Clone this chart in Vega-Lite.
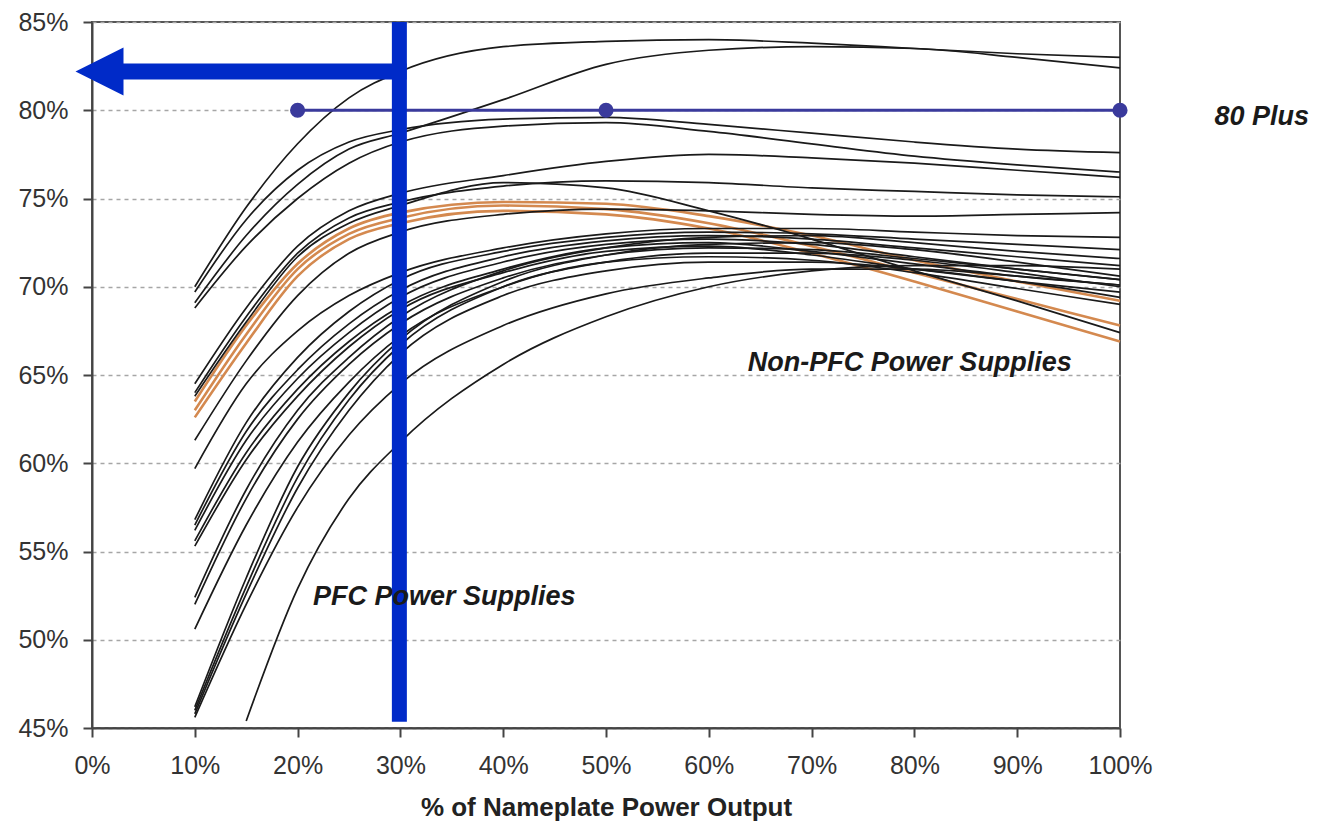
{
  "$schema": "https://vega.github.io/schema/vega-lite/v6.json",
  "width": 1028,
  "height": 706,
  "autosize": "none",
  "padding": {"left": 92, "top": 22, "right": 203, "bottom": 98},
  "background": "white",
  "config": {
    "view": {"stroke": "#555", "strokeWidth": 2},
    "font": "Liberation Sans"
  },
  "datasets": {
    "curves": [
      {"id":"A1","k":"black","x":10,"y":70.0},{"id":"A1","k":"black","x":15,"y":74.5},{"id":"A1","k":"black","x":20,"y":78.1},{"id":"A1","k":"black","x":25,"y":80.7},{"id":"A1","k":"black","x":30,"y":82.2},{"id":"A1","k":"black","x":40,"y":83.6},{"id":"A1","k":"black","x":50,"y":83.9},{"id":"A1","k":"black","x":60,"y":84.0},{"id":"A1","k":"black","x":70,"y":83.8},{"id":"A1","k":"black","x":80,"y":83.5},{"id":"A1","k":"black","x":90,"y":83.2},{"id":"A1","k":"black","x":100,"y":83.0},
      {"id":"A2","k":"black","x":10,"y":69.1},{"id":"A2","k":"black","x":15,"y":72.9},{"id":"A2","k":"black","x":20,"y":75.8},{"id":"A2","k":"black","x":25,"y":77.8},{"id":"A2","k":"black","x":30,"y":78.7},{"id":"A2","k":"black","x":40,"y":80.6},{"id":"A2","k":"black","x":50,"y":82.6},{"id":"A2","k":"black","x":60,"y":83.4},{"id":"A2","k":"black","x":70,"y":83.6},{"id":"A2","k":"black","x":80,"y":83.5},{"id":"A2","k":"black","x":90,"y":83.0},{"id":"A2","k":"black","x":100,"y":82.4},
      {"id":"B1","k":"black","x":10,"y":69.7},{"id":"B1","k":"black","x":15,"y":73.8},{"id":"B1","k":"black","x":20,"y":76.6},{"id":"B1","k":"black","x":25,"y":78.2},{"id":"B1","k":"black","x":30,"y":78.9},{"id":"B1","k":"black","x":40,"y":79.5},{"id":"B1","k":"black","x":50,"y":79.6},{"id":"B1","k":"black","x":60,"y":79.2},{"id":"B1","k":"black","x":70,"y":78.7},{"id":"B1","k":"black","x":80,"y":78.2},{"id":"B1","k":"black","x":90,"y":77.8},{"id":"B1","k":"black","x":100,"y":77.6},
      {"id":"B2","k":"black","x":10,"y":68.8},{"id":"B2","k":"black","x":15,"y":72.3},{"id":"B2","k":"black","x":20,"y":75.0},{"id":"B2","k":"black","x":25,"y":77.0},{"id":"B2","k":"black","x":30,"y":78.2},{"id":"B2","k":"black","x":40,"y":79.1},{"id":"B2","k":"black","x":50,"y":79.3},{"id":"B2","k":"black","x":60,"y":78.8},{"id":"B2","k":"black","x":70,"y":78.1},{"id":"B2","k":"black","x":80,"y":77.4},{"id":"B2","k":"black","x":90,"y":76.9},{"id":"B2","k":"black","x":100,"y":76.5},
      {"id":"O1","k":"orange","x":10,"y":63.5},{"id":"O1","k":"orange","x":15,"y":67.8},{"id":"O1","k":"orange","x":20,"y":71.3},{"id":"O1","k":"orange","x":25,"y":73.3},{"id":"O1","k":"orange","x":30,"y":74.2},{"id":"O1","k":"orange","x":40,"y":74.8},{"id":"O1","k":"orange","x":50,"y":74.7},{"id":"O1","k":"orange","x":60,"y":74.0},{"id":"O1","k":"orange","x":70,"y":72.9},{"id":"O1","k":"orange","x":80,"y":71.5},{"id":"O1","k":"orange","x":90,"y":70.3},{"id":"O1","k":"orange","x":100,"y":69.2},
      {"id":"O2","k":"orange","x":10,"y":63.0},{"id":"O2","k":"orange","x":15,"y":67.3},{"id":"O2","k":"orange","x":20,"y":71.0},{"id":"O2","k":"orange","x":25,"y":73.0},{"id":"O2","k":"orange","x":30,"y":73.9},{"id":"O2","k":"orange","x":40,"y":74.6},{"id":"O2","k":"orange","x":50,"y":74.4},{"id":"O2","k":"orange","x":60,"y":73.6},{"id":"O2","k":"orange","x":70,"y":72.3},{"id":"O2","k":"orange","x":80,"y":70.8},{"id":"O2","k":"orange","x":90,"y":69.3},{"id":"O2","k":"orange","x":100,"y":67.8},
      {"id":"O3","k":"orange","x":10,"y":62.6},{"id":"O3","k":"orange","x":15,"y":66.8},{"id":"O3","k":"orange","x":20,"y":70.6},{"id":"O3","k":"orange","x":25,"y":72.7},{"id":"O3","k":"orange","x":30,"y":73.6},{"id":"O3","k":"orange","x":40,"y":74.3},{"id":"O3","k":"orange","x":50,"y":74.1},{"id":"O3","k":"orange","x":60,"y":73.3},{"id":"O3","k":"orange","x":70,"y":71.9},{"id":"O3","k":"orange","x":80,"y":70.3},{"id":"O3","k":"orange","x":90,"y":68.6},{"id":"O3","k":"orange","x":100,"y":66.9},
      {"id":"C1","k":"black","x":10,"y":64.5},{"id":"C1","k":"black","x":15,"y":68.8},{"id":"C1","k":"black","x":20,"y":72.3},{"id":"C1","k":"black","x":25,"y":74.3},{"id":"C1","k":"black","x":30,"y":75.3},{"id":"C1","k":"black","x":40,"y":76.3},{"id":"C1","k":"black","x":50,"y":77.1},{"id":"C1","k":"black","x":60,"y":77.5},{"id":"C1","k":"black","x":70,"y":77.3},{"id":"C1","k":"black","x":80,"y":77.0},{"id":"C1","k":"black","x":90,"y":76.6},{"id":"C1","k":"black","x":100,"y":76.2},
      {"id":"C2","k":"black","x":10,"y":64.0},{"id":"C2","k":"black","x":15,"y":68.3},{"id":"C2","k":"black","x":20,"y":71.9},{"id":"C2","k":"black","x":25,"y":73.9},{"id":"C2","k":"black","x":30,"y":74.8},{"id":"C2","k":"black","x":40,"y":75.7},{"id":"C2","k":"black","x":50,"y":76.0},{"id":"C2","k":"black","x":60,"y":75.9},{"id":"C2","k":"black","x":70,"y":75.6},{"id":"C2","k":"black","x":80,"y":75.4},{"id":"C2","k":"black","x":90,"y":75.2},{"id":"C2","k":"black","x":100,"y":75.1},
      {"id":"C3","k":"black","x":10,"y":63.8},{"id":"C3","k":"black","x":15,"y":68.0},{"id":"C3","k":"black","x":20,"y":71.7},{"id":"C3","k":"black","x":25,"y":73.6},{"id":"C3","k":"black","x":30,"y":74.6},{"id":"C3","k":"black","x":40,"y":75.9},{"id":"C3","k":"black","x":50,"y":75.6},{"id":"C3","k":"black","x":60,"y":74.3},{"id":"C3","k":"black","x":70,"y":72.7},{"id":"C3","k":"black","x":80,"y":70.9},{"id":"C3","k":"black","x":90,"y":69.2},{"id":"C3","k":"black","x":100,"y":67.4},
      {"id":"C4","k":"black","x":10,"y":61.3},{"id":"C4","k":"black","x":15,"y":65.8},{"id":"C4","k":"black","x":20,"y":69.5},{"id":"C4","k":"black","x":25,"y":71.9},{"id":"C4","k":"black","x":30,"y":73.1},{"id":"C4","k":"black","x":40,"y":74.1},{"id":"C4","k":"black","x":50,"y":74.4},{"id":"C4","k":"black","x":60,"y":74.3},{"id":"C4","k":"black","x":70,"y":74.1},{"id":"C4","k":"black","x":80,"y":74.0},{"id":"C4","k":"black","x":90,"y":74.1},{"id":"C4","k":"black","x":100,"y":74.2},
      {"id":"D1","k":"black","x":10,"y":59.7},{"id":"D1","k":"black","x":15,"y":64.5},{"id":"D1","k":"black","x":20,"y":67.5},{"id":"D1","k":"black","x":25,"y":69.5},{"id":"D1","k":"black","x":30,"y":70.8},{"id":"D1","k":"black","x":40,"y":72.2},{"id":"D1","k":"black","x":50,"y":73.0},{"id":"D1","k":"black","x":60,"y":73.3},{"id":"D1","k":"black","x":70,"y":73.3},{"id":"D1","k":"black","x":80,"y":73.1},{"id":"D1","k":"black","x":90,"y":72.9},{"id":"D1","k":"black","x":100,"y":72.8},
      {"id":"D2","k":"black","x":10,"y":56.8},{"id":"D2","k":"black","x":15,"y":62.3},{"id":"D2","k":"black","x":20,"y":66.0},{"id":"D2","k":"black","x":25,"y":68.6},{"id":"D2","k":"black","x":30,"y":70.4},{"id":"D2","k":"black","x":40,"y":72.0},{"id":"D2","k":"black","x":50,"y":72.8},{"id":"D2","k":"black","x":60,"y":73.1},{"id":"D2","k":"black","x":70,"y":73.0},{"id":"D2","k":"black","x":80,"y":72.7},{"id":"D2","k":"black","x":90,"y":72.4},{"id":"D2","k":"black","x":100,"y":72.1},
      {"id":"D3","k":"black","x":10,"y":56.5},{"id":"D3","k":"black","x":15,"y":61.8},{"id":"D3","k":"black","x":20,"y":65.3},{"id":"D3","k":"black","x":25,"y":67.9},{"id":"D3","k":"black","x":30,"y":69.8},{"id":"D3","k":"black","x":40,"y":71.7},{"id":"D3","k":"black","x":50,"y":72.6},{"id":"D3","k":"black","x":60,"y":72.9},{"id":"D3","k":"black","x":70,"y":72.7},{"id":"D3","k":"black","x":80,"y":72.2},{"id":"D3","k":"black","x":90,"y":71.7},{"id":"D3","k":"black","x":100,"y":71.2},
      {"id":"D4","k":"black","x":10,"y":56.2},{"id":"D4","k":"black","x":15,"y":61.3},{"id":"D4","k":"black","x":20,"y":64.8},{"id":"D4","k":"black","x":25,"y":67.4},{"id":"D4","k":"black","x":30,"y":69.4},{"id":"D4","k":"black","x":40,"y":71.4},{"id":"D4","k":"black","x":50,"y":72.4},{"id":"D4","k":"black","x":60,"y":72.7},{"id":"D4","k":"black","x":70,"y":72.4},{"id":"D4","k":"black","x":80,"y":71.7},{"id":"D4","k":"black","x":90,"y":71.0},{"id":"D4","k":"black","x":100,"y":70.4},
      {"id":"D5","k":"black","x":10,"y":55.6},{"id":"D5","k":"black","x":15,"y":60.6},{"id":"D5","k":"black","x":20,"y":64.2},{"id":"D5","k":"black","x":25,"y":66.9},{"id":"D5","k":"black","x":30,"y":68.9},{"id":"D5","k":"black","x":40,"y":71.0},{"id":"D5","k":"black","x":50,"y":72.2},{"id":"D5","k":"black","x":60,"y":72.5},{"id":"D5","k":"black","x":70,"y":72.0},{"id":"D5","k":"black","x":80,"y":71.3},{"id":"D5","k":"black","x":90,"y":70.6},{"id":"D5","k":"black","x":100,"y":70.1},
      {"id":"D6","k":"black","x":10,"y":55.3},{"id":"D6","k":"black","x":15,"y":60.2},{"id":"D6","k":"black","x":20,"y":63.8},{"id":"D6","k":"black","x":25,"y":66.6},{"id":"D6","k":"black","x":30,"y":68.7},{"id":"D6","k":"black","x":40,"y":70.8},{"id":"D6","k":"black","x":50,"y":72.0},{"id":"D6","k":"black","x":60,"y":72.3},{"id":"D6","k":"black","x":70,"y":71.8},{"id":"D6","k":"black","x":80,"y":71.0},{"id":"D6","k":"black","x":90,"y":70.3},{"id":"D6","k":"black","x":100,"y":69.7},
      {"id":"E1","k":"black","x":10,"y":52.4},{"id":"E1","k":"black","x":15,"y":58.5},{"id":"E1","k":"black","x":20,"y":63.0},{"id":"E1","k":"black","x":25,"y":66.0},{"id":"E1","k":"black","x":30,"y":68.3},{"id":"E1","k":"black","x":40,"y":70.9},{"id":"E1","k":"black","x":50,"y":72.2},{"id":"E1","k":"black","x":60,"y":72.8},{"id":"E1","k":"black","x":70,"y":72.9},{"id":"E1","k":"black","x":80,"y":72.5},{"id":"E1","k":"black","x":90,"y":72.0},{"id":"E1","k":"black","x":100,"y":71.6},
      {"id":"E2","k":"black","x":10,"y":52.0},{"id":"E2","k":"black","x":15,"y":58.0},{"id":"E2","k":"black","x":20,"y":62.5},{"id":"E2","k":"black","x":25,"y":65.6},{"id":"E2","k":"black","x":30,"y":67.9},{"id":"E2","k":"black","x":40,"y":70.5},{"id":"E2","k":"black","x":50,"y":71.8},{"id":"E2","k":"black","x":60,"y":72.2},{"id":"E2","k":"black","x":70,"y":72.1},{"id":"E2","k":"black","x":80,"y":71.6},{"id":"E2","k":"black","x":90,"y":71.0},{"id":"E2","k":"black","x":100,"y":70.4},
      {"id":"E3","k":"black","x":10,"y":50.6},{"id":"E3","k":"black","x":15,"y":56.5},{"id":"E3","k":"black","x":20,"y":61.2},{"id":"E3","k":"black","x":25,"y":64.6},{"id":"E3","k":"black","x":30,"y":67.2},{"id":"E3","k":"black","x":40,"y":70.0},{"id":"E3","k":"black","x":50,"y":71.4},{"id":"E3","k":"black","x":60,"y":71.7},{"id":"E3","k":"black","x":70,"y":71.5},{"id":"E3","k":"black","x":80,"y":70.8},{"id":"E3","k":"black","x":90,"y":69.9},{"id":"E3","k":"black","x":100,"y":69.0},
      {"id":"F1","k":"black","x":10,"y":46.2},{"id":"F1","k":"black","x":15,"y":53.5},{"id":"F1","k":"black","x":20,"y":59.8},{"id":"F1","k":"black","x":25,"y":64.0},{"id":"F1","k":"black","x":30,"y":67.0},{"id":"F1","k":"black","x":40,"y":70.3},{"id":"F1","k":"black","x":50,"y":71.8},{"id":"F1","k":"black","x":60,"y":72.4},{"id":"F1","k":"black","x":70,"y":72.5},{"id":"F1","k":"black","x":80,"y":72.1},{"id":"F1","k":"black","x":90,"y":71.4},{"id":"F1","k":"black","x":100,"y":70.6},
      {"id":"F2","k":"black","x":10,"y":46.0},{"id":"F2","k":"black","x":15,"y":53.0},{"id":"F2","k":"black","x":20,"y":59.2},{"id":"F2","k":"black","x":25,"y":63.6},{"id":"F2","k":"black","x":30,"y":66.7},{"id":"F2","k":"black","x":40,"y":70.0},{"id":"F2","k":"black","x":50,"y":71.4},{"id":"F2","k":"black","x":60,"y":71.9},{"id":"F2","k":"black","x":70,"y":71.9},{"id":"F2","k":"black","x":80,"y":71.5},{"id":"F2","k":"black","x":90,"y":70.8},{"id":"F2","k":"black","x":100,"y":70.0},
      {"id":"F3","k":"black","x":10,"y":45.8},{"id":"F3","k":"black","x":15,"y":52.6},{"id":"F3","k":"black","x":20,"y":58.6},{"id":"F3","k":"black","x":25,"y":63.0},{"id":"F3","k":"black","x":30,"y":66.2},{"id":"F3","k":"black","x":40,"y":69.5},{"id":"F3","k":"black","x":50,"y":70.9},{"id":"F3","k":"black","x":60,"y":71.4},{"id":"F3","k":"black","x":70,"y":71.4},{"id":"F3","k":"black","x":80,"y":71.0},{"id":"F3","k":"black","x":90,"y":70.3},{"id":"F3","k":"black","x":100,"y":69.4},
      {"id":"F4","k":"black","x":10,"y":45.6},{"id":"F4","k":"black","x":15,"y":52.0},{"id":"F4","k":"black","x":20,"y":57.5},{"id":"F4","k":"black","x":25,"y":61.6},{"id":"F4","k":"black","x":30,"y":64.5},{"id":"F4","k":"black","x":40,"y":67.8},{"id":"F4","k":"black","x":50,"y":69.6},{"id":"F4","k":"black","x":60,"y":70.5},{"id":"F4","k":"black","x":70,"y":71.0},{"id":"F4","k":"black","x":80,"y":71.0},{"id":"F4","k":"black","x":90,"y":70.6},{"id":"F4","k":"black","x":100,"y":70.1},
      {"id":"G","k":"black","x":15,"y":45.4},{"id":"G","k":"black","x":20,"y":52.9},{"id":"G","k":"black","x":25,"y":58.0},{"id":"G","k":"black","x":30,"y":61.2},{"id":"G","k":"black","x":40,"y":65.6},{"id":"G","k":"black","x":50,"y":68.3},{"id":"G","k":"black","x":60,"y":70.0},{"id":"G","k":"black","x":70,"y":70.9},{"id":"G","k":"black","x":80,"y":71.2},{"id":"G","k":"black","x":90,"y":71.2},{"id":"G","k":"black","x":100,"y":71.0}
    ],
    "plus80": [
      {"x": 20, "y": 80}, {"x": 50, "y": 80}, {"x": 100, "y": 80}
    ],
    "labels": [
      {"x": 21.5, "y": 52.4, "t": "PFC Power Supplies"},
      {"x": 63.8, "y": 65.7, "t": "Non-PFC Power Supplies"},
      {"x": 109.2, "y": 79.6, "t": "80 Plus"}
    ],
    "vline": [{"x": 29.9, "y": 85, "y2": 45.35}],
    "hline": [{"x": 3.0, "x2": 30.6, "y": 82.2}],
    "head": [{"x": 0.73, "y": 82.2}]
  },
  "layer": [
    {
      "data": {"name": "curves"},
      "mark": {"type": "line", "interpolate": "monotone"},
      "encoding": {
        "x": {
          "field": "x", "type": "quantitative",
          "scale": {"domain": [0, 100], "nice": false, "zero": false},
          "axis": {
            "values": [0, 10, 20, 30, 40, 50, 60, 70, 80, 90, 100],
            "labelExpr": "datum.value + '%'",
            "labelFlush": false,
            "grid": false,
            "title": "% of Nameplate Power Output",
            "titleFontSize": 26, "titleFontWeight": "bold", "titleColor": "#222", "titlePadding": 16,
            "titleFont": "Liberation Sans",
            "labelFontSize": 25, "labelColor": "#333", "labelFont": "Liberation Sans", "labelPadding": 16,
            "tickSize": 9, "tickColor": "#444", "tickWidth": 2,
            "domainColor": "#444", "domainWidth": 2
          }
        },
        "y": {
          "field": "y", "type": "quantitative",
          "scale": {"domain": [45, 85], "nice": false, "zero": false},
          "axis": {
            "values": [45, 50, 55, 60, 65, 70, 75, 80, 85],
            "labelExpr": "datum.value + '%'",
            "labelFlush": false,
            "title": null,
            "grid": true, "gridDash": [4, 4], "gridColor": "#a6a6a6", "gridWidth": 1.5,
            "labelFontSize": 25, "labelColor": "#333", "labelFont": "Liberation Sans", "labelPadding": 15,
            "tickSize": 9, "tickColor": "#444", "tickWidth": 2,
            "domainColor": "#444", "domainWidth": 2
          }
        },
        "detail": {"field": "id"},
        "color": {"field": "k", "type": "nominal", "scale": {"domain": ["black", "orange"], "range": ["#1a1a1a", "#d4894f"]}, "legend": null},
        "strokeWidth": {"field": "k", "type": "nominal", "scale": {"domain": ["black", "orange"], "range": [1.7, 2.6]}, "legend": null}
      }
    },
    {
      "data": {"name": "plus80"},
      "mark": {"type": "line", "color": "#3a3a9c", "strokeWidth": 3},
      "encoding": {
        "x": {"field": "x", "type": "quantitative"},
        "y": {"field": "y", "type": "quantitative"}
      }
    },
    {
      "data": {"name": "plus80"},
      "mark": {"type": "point", "filled": true, "color": "#3a3a9c", "opacity": 1, "size": 230, "shape": "circle"},
      "encoding": {
        "x": {"field": "x", "type": "quantitative"},
        "y": {"field": "y", "type": "quantitative"}
      }
    },
    {
      "data": {"name": "vline"},
      "mark": {"type": "rule", "color": "#002ac8", "strokeWidth": 15},
      "encoding": {
        "x": {"field": "x", "type": "quantitative"},
        "y": {"field": "y", "type": "quantitative"},
        "y2": {"field": "y2"}
      }
    },
    {
      "data": {"name": "hline"},
      "mark": {"type": "rule", "color": "#002ac8", "strokeWidth": 16},
      "encoding": {
        "x": {"field": "x", "type": "quantitative"},
        "x2": {"field": "x2"},
        "y": {"field": "y", "type": "quantitative"}
      }
    },
    {
      "data": {"name": "head"},
      "mark": {"type": "point", "filled": true, "color": "#002ac8", "opacity": 1, "size": 2304, "shape": "M-1,0L1,-1L1,1Z"},
      "encoding": {
        "x": {"field": "x", "type": "quantitative"},
        "y": {"field": "y", "type": "quantitative"}
      }
    },
    {
      "data": {"name": "labels"},
      "mark": {"type": "text", "align": "left", "baseline": "middle", "font": "Liberation Sans", "fontSize": 27, "fontStyle": "italic", "fontWeight": "bold", "color": "#1a1a1a"},
      "encoding": {
        "x": {"field": "x", "type": "quantitative"},
        "y": {"field": "y", "type": "quantitative"},
        "text": {"field": "t"}
      }
    }
  ]
}
